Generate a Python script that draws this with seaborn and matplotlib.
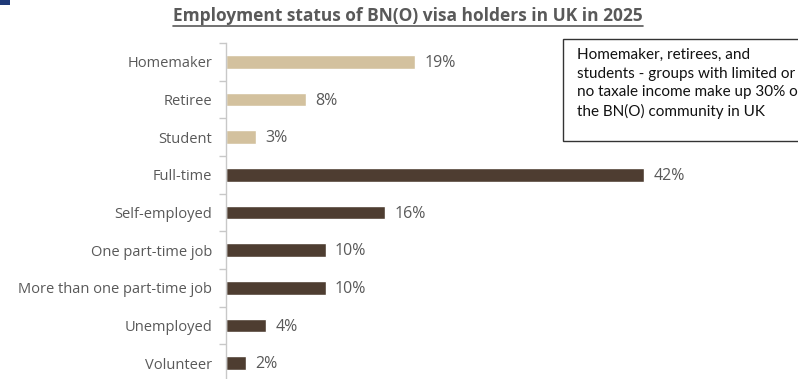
import matplotlib
matplotlib.use("Agg")
import matplotlib.pyplot as plt
from matplotlib.patches import Rectangle
from matplotlib.lines import Line2D
import seaborn as sns
import pandas as pd
import numpy as np

categories = ["Homemaker", "Retiree", "Student", "Full-time", "Self-employed",
              "One part-time job", "More than one part-time job", "Unemployed", "Volunteer"]
shares = [19, 8, 3, 42, 16, 10, 10, 4, 2]
groups = ["Limited income"] * 3 + ["Working"] * 6
title = "Employment status of BN(O) visa holders in UK in 2025"
note = ("Homemaker, retirees, and\nstudents - groups with limited or\n"
        "no taxale income make up 30% of\nthe BN(O) community in UK")

TAN = "#D3C19E"
BROWN = "#4E3D31"
GREY = "#595959"
AXIS_GREY = "#C8C8C8"

sns.set_theme(style="white")
plt.rcParams["font.family"] = ["Open Sans", "DejaVu Sans"]

df = pd.DataFrame({"category": categories, "share": shares, "group": groups})

W, H = 798, 379
fig = plt.figure(figsize=(W / 100, H / 100), dpi=100)
ax = fig.add_axes([226 / W, -3 / H, 572 / W, 339 / H])

sns.barplot(data=df, x="share", y="category", hue="group",
            palette={"Limited income": TAN, "Working": BROWN},
            dodge=False, width=0.37, legend=False, ax=ax, saturation=1)

ax.set_xlim(0, 572 / 9.95)
ax.set_ylim(len(categories) - 0.5, -0.5)
ax.set_xlabel("")
ax.set_ylabel("")
ax.set_xticks([])
for s in ["top", "right", "bottom"]:
    ax.spines[s].set_visible(False)
ax.spines["left"].set_color(AXIS_GREY)
ax.spines["left"].set_linewidth(1.0)

ax.tick_params(axis="y", which="major", left=False, length=0, pad=10,
               labelsize=10.5, labelcolor=GREY)
ax.yaxis.set_minor_locator(matplotlib.ticker.FixedLocator(
    np.arange(-0.5, len(categories), 1.0)))
ax.tick_params(axis="y", which="minor", left=True, length=5,
               color=AXIS_GREY, width=1.0, direction="out")

for p, v in zip(ax.patches, shares):
    y = p.get_y() + p.get_height() / 2
    ax.text(p.get_width() + 0.95, y + 0.03, f"{v}%", va="center", ha="left",
            fontsize=11.5, color=GREY)

# title with underline
t = fig.text(408 / W, 1 - 16 / H, title, ha="center", va="center",
             fontsize=12.5, fontweight="bold", color=GREY)
fig.canvas.draw()
bb = t.get_window_extent()
fig.add_artist(Line2D([bb.x0 / W, bb.x1 / W], [(bb.y0 - 1) / H, (bb.y0 - 1) / H],
                      color=GREY, linewidth=1.2))

# note box running off the right edge
fig.add_artist(Rectangle((563 / W, 1 - 141 / H), 260 / W, 102 / H,
                         transform=fig.transFigure, facecolor="white",
                         edgecolor="#333333", linewidth=1.0, clip_on=False))
fig.text(577 / W, 1 - 48 / H, note, ha="left", va="top", fontsize=11,
         color="#111111", linespacing=1.42, family=["Lato", "DejaVu Sans"])

# small corner marker
fig.add_artist(Rectangle((0, 1 - 5 / H), 10 / W, 5 / H, transform=fig.transFigure,
                         facecolor="#1F3A78", edgecolor="none"))

fig.savefig("out.png", dpi=100)
